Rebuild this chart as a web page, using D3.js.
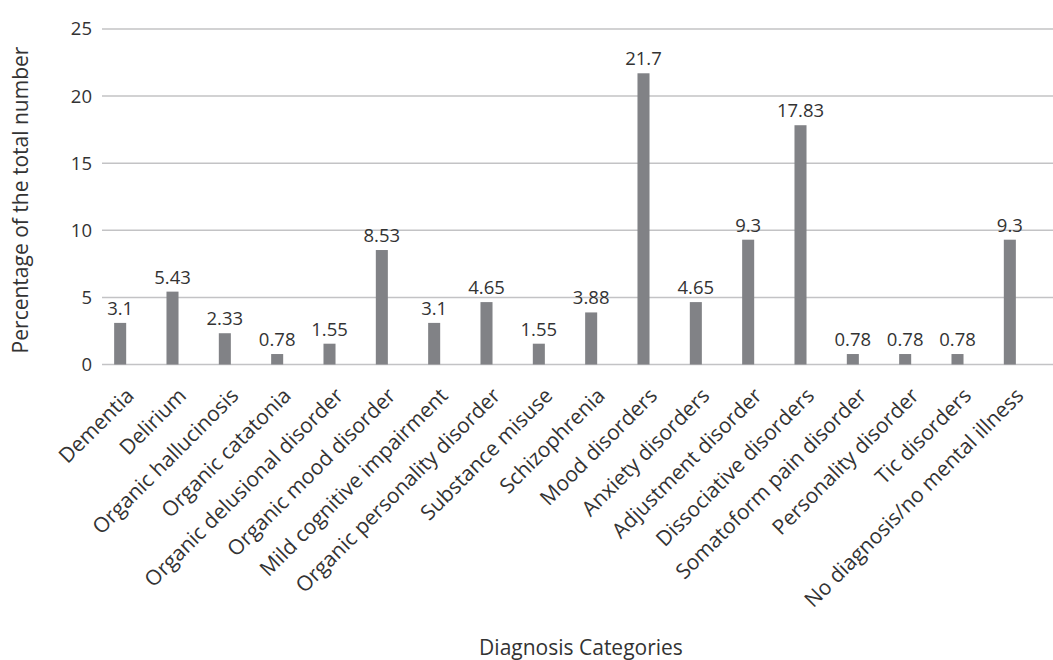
<!DOCTYPE html>
<html>
<head>
<meta charset="utf-8">
<script src="https://cdn.jsdelivr.net/npm/d3@7"></script>
<style>
  body { margin: 0; background: #fff; }
  svg text { font-family: "Open Sans", sans-serif; fill: #333; }
</style>
</head>
<body>
<svg id="chart" width="1053" height="660"></svg>
<script>
const categories = [
  'Dementia', 'Delirium', 'Organic hallucinosis', 'Organic catatonia',
  'Organic delusional disorder', 'Organic mood disorder', 'Mild cognitive impairment',
  'Organic personality disorder', 'Substance misuse', 'Schizophrenia', 'Mood disorders',
  'Anxiety disorders', 'Adjustment disorder', 'Dissociative disorders',
  'Somatoform pain disorder', 'Personality disorder', 'Tic disorders',
  'No diagnosis/no mental illness'
];
const values = [3.1, 5.43, 2.33, 0.78, 1.55, 8.53, 3.1, 4.65, 1.55, 3.88, 21.7, 4.65, 9.3, 17.83, 0.78, 0.78, 0.78, 9.3];
const labels = ['3.1', '5.43', '2.33', '0.78', '1.55', '8.53', '3.1', '4.65', '1.55', '3.88', '21.7', '4.65', '9.3', '17.83', '0.78', '0.78', '0.78', '9.3'];
const yTicks = [0, 5, 10, 15, 20, 25];

const svg = d3.select('#chart');

// plot geometry
const gridLeft = 102, gridRight = 1053;
const x = d3.scaleBand()
    .domain(categories)
    .range([94, 1036])
    .paddingInner(0.77)
    .paddingOuter(0.385);
const y = d3.scaleLinear()
    .domain([0, 25])
    .range([364.5, 29]);

// gridlines
svg.append('g')
    .selectAll('line')
    .data(yTicks)
    .enter().append('line')
    .attr('x1', gridLeft)
    .attr('x2', gridRight)
    .attr('y1', d => y(d))
    .attr('y2', d => y(d))
    .attr('stroke', '#c3c3c5')
    .attr('stroke-width', 1.5);

// y tick labels
svg.append('g')
    .selectAll('text')
    .data(yTicks)
    .enter().append('text')
    .attr('x', 92)
    .attr('y', d => y(d))
    .attr('dy', '0.35em')
    .attr('text-anchor', 'end')
    .style('font-size', '18.5px')
    .text(d => d);

// bars
svg.append('g')
    .selectAll('rect')
    .data(values)
    .enter().append('rect')
    .attr('x', (d, i) => x(categories[i]))
    .attr('width', x.bandwidth())
    .attr('y', d => y(d))
    .attr('height', d => y(0) - y(d))
    .attr('fill', '#818286');

// value labels
svg.append('g')
    .selectAll('text')
    .data(values)
    .enter().append('text')
    .attr('x', (d, i) => x(categories[i]) + x.bandwidth() / 2)
    .attr('y', d => y(d) - 8)
    .attr('text-anchor', 'middle')
    .style('font-size', '18.5px')
    .text((d, i) => labels[i]);

// category labels
svg.append('g')
    .selectAll('text')
    .data(categories)
    .enter().append('text')
    .attr('transform', d => 'translate(' + (x(d) + x.bandwidth() / 2 + 15) + ',397) rotate(-45)')
    .attr('text-anchor', 'end')
    .style('font-size', '21px')
    .text(d => d);

// axis titles
svg.append('text')
    .attr('transform', 'translate(28,200) rotate(-90)')
    .attr('text-anchor', 'middle')
    .style('font-size', '21px')
    .text('Percentage of the total number');

svg.append('text')
    .attr('x', 581)
    .attr('y', 655)
    .attr('text-anchor', 'middle')
    .style('font-size', '21px')
    .text('Diagnosis Categories');
</script>
</body>
</html>
